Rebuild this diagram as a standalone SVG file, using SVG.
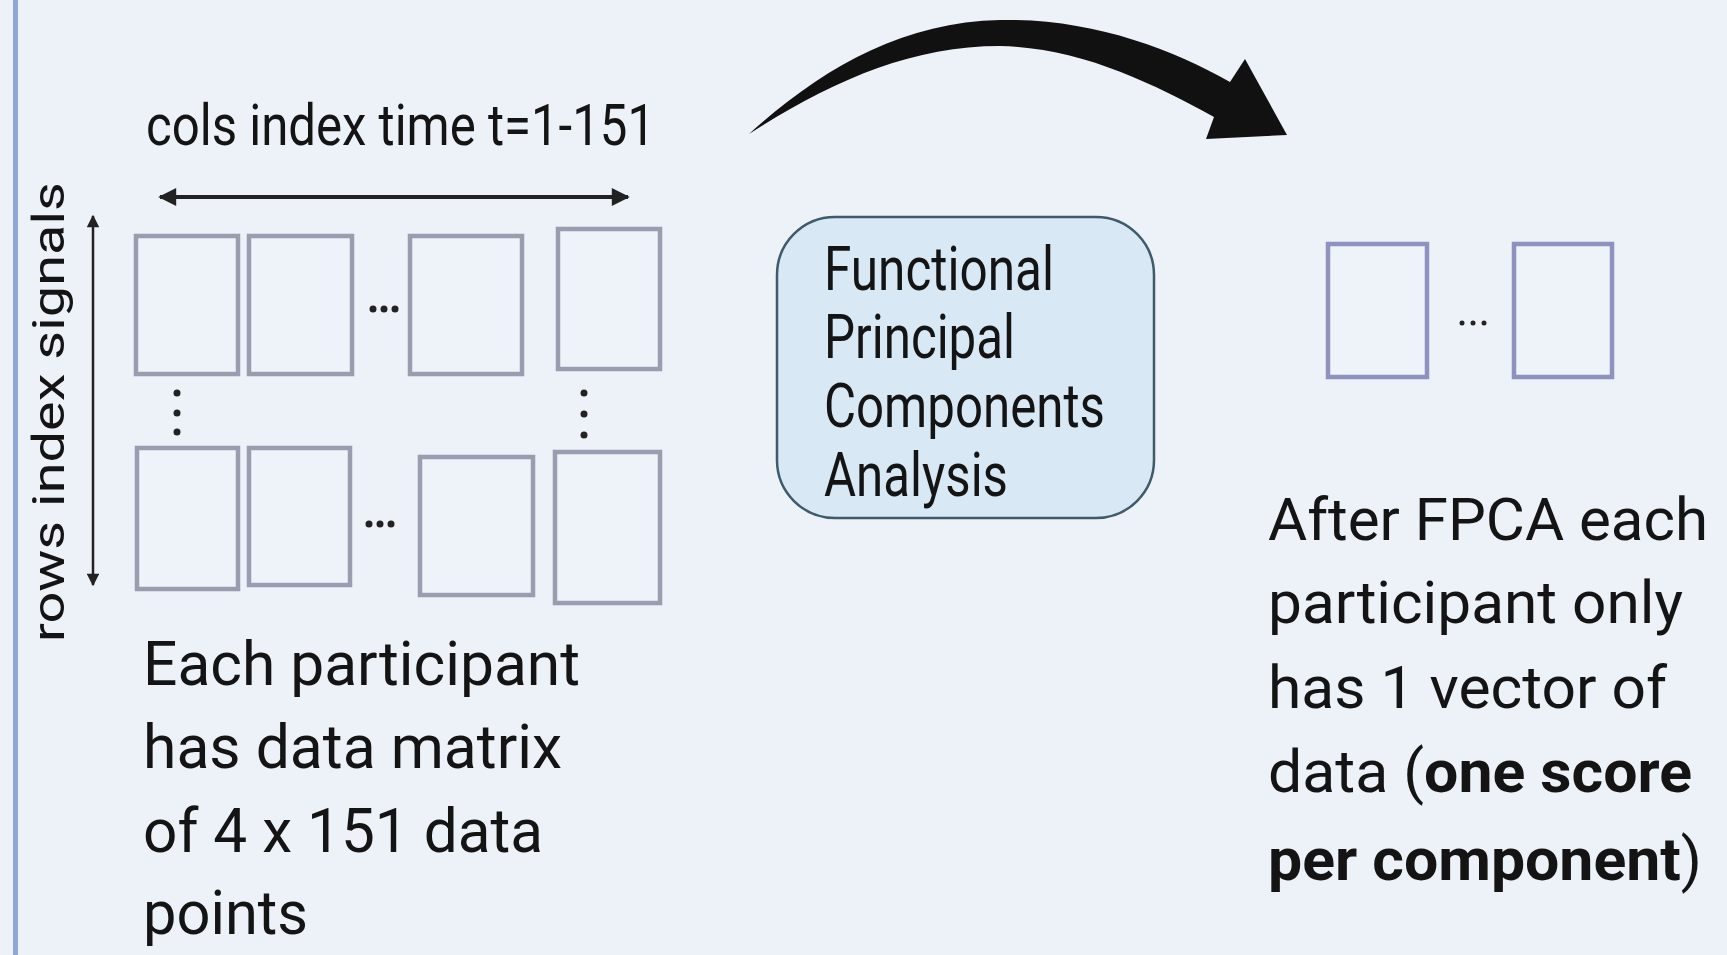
<svg xmlns="http://www.w3.org/2000/svg" width="1727" height="955" viewBox="0 0 1727 955">
<defs>
<style>
.t{font-family:Roboto,"Liberation Sans",sans-serif;fill:#141414}
.big{font-size:62px}
.rt{font-size:60px}
.box{fill:#eef3fa;stroke:#9a9db0;stroke-width:4.5}
.rbox{fill:#eef3fa;stroke:#8f92bf;stroke-width:4.5}
.dot{fill:#222}
</style>
<marker id="ah" viewBox="0 0 10 10" refX="9" refY="5" markerWidth="5" markerHeight="4.5" orient="auto-start-reverse" markerUnits="strokeWidth">
<path d="M0,0 L10,5 L0,10 z" fill="#222"/>
</marker>
<marker id="ah2" viewBox="0 0 10 10" refX="9" refY="5" markerWidth="7" markerHeight="5" orient="auto-start-reverse" markerUnits="strokeWidth">
<path d="M0,0 L10,5 L0,10 z" fill="#222"/>
</marker>
</defs>
<rect width="1727" height="955" fill="#edf1f8"/>
<rect x="13" y="0" width="5" height="955" fill="#8ea9d8"/>

<g id="connectors">
<line x1="160" y1="197" x2="628" y2="197" stroke="#222" stroke-width="4" marker-start="url(#ah)" marker-end="url(#ah)"/>
<line x1="93" y1="216" x2="93" y2="585" stroke="#222" stroke-width="2.5" marker-start="url(#ah2)" marker-end="url(#ah2)"/>
<path id="curved-arrow" d="M749,134 C820,70 900,22 1000,20 C1090,18 1170,48 1230,82 L1245,59 L1287,135 L1206,139 L1214,117 C1150,82 1080,48 1000,46 C910,46 830,82 749,134 Z" fill="#111"/>
</g>

<g id="label-cols">
<text class="t" x="146" y="145" font-size="57" textLength="509" lengthAdjust="spacingAndGlyphs">cols index time t=1-151</text>
</g>
<g id="label-rows">
<text class="t" transform="translate(64,642) rotate(-90)" font-size="45" textLength="460" lengthAdjust="spacingAndGlyphs">rows index signals</text>
</g>

<g id="matrix">
<rect class="box" x="136" y="236" width="102" height="138"/>
<rect class="box" x="249" y="236" width="103" height="138"/>
<rect class="box" x="410" y="236" width="112" height="138"/>
<rect class="box" x="558" y="229" width="102" height="140"/>
<rect class="box" x="137" y="448" width="101" height="141"/>
<rect class="box" x="249" y="448" width="101" height="137"/>
<rect class="box" x="420" y="457" width="113" height="138"/>
<rect class="box" x="555" y="452" width="105" height="151"/>
<circle class="dot" cx="373" cy="309" r="3.5"/><circle class="dot" cx="384" cy="309" r="3.5"/><circle class="dot" cx="395" cy="309" r="3.5"/>
<circle class="dot" cx="369" cy="524" r="3.5"/><circle class="dot" cx="380" cy="524" r="3.5"/><circle class="dot" cx="391" cy="524" r="3.5"/>
<circle class="dot" cx="177" cy="393" r="3.5"/><circle class="dot" cx="177" cy="413" r="3.5"/><circle class="dot" cx="177" cy="432" r="3.5"/>
<circle class="dot" cx="584" cy="393" r="3.5"/><circle class="dot" cx="584" cy="414" r="3.5"/><circle class="dot" cx="584" cy="435" r="3.5"/>
</g>

<g id="left-text">
<text class="t big" x="143" y="685" textLength="437" lengthAdjust="spacingAndGlyphs">Each participant</text>
<text class="t big" x="143" y="768" textLength="419" lengthAdjust="spacingAndGlyphs">has data matrix</text>
<text class="t big" x="143" y="852" textLength="400" lengthAdjust="spacingAndGlyphs">of 4 x 151 data</text>
<text class="t big" x="143" y="934" textLength="165" lengthAdjust="spacingAndGlyphs">points</text>
</g>

<g id="fpca">
<rect x="777" y="217" width="377" height="301" rx="58" ry="58" fill="#d9e8f5" stroke="#3f5a6a" stroke-width="2.5"/>
<text class="t" x="824" y="290" font-size="62" textLength="230" lengthAdjust="spacingAndGlyphs">Functional</text>
<text class="t" x="824" y="358" font-size="62" textLength="191" lengthAdjust="spacingAndGlyphs">Principal</text>
<text class="t" x="824" y="427" font-size="62" textLength="281" lengthAdjust="spacingAndGlyphs">Components</text>
<text class="t" x="824" y="496" font-size="62" textLength="184" lengthAdjust="spacingAndGlyphs">Analysis</text>
</g>

<g id="scores">
<rect class="rbox" x="1328" y="244" width="99" height="133"/>
<rect class="rbox" x="1514" y="244" width="98" height="133"/>
<circle class="dot" cx="1462" cy="323" r="2.5"/><circle class="dot" cx="1473" cy="323" r="2.5"/><circle class="dot" cx="1484" cy="323" r="2.5"/>
</g>

<g id="right-text">
<text class="t rt" x="1268" y="540" textLength="440" lengthAdjust="spacingAndGlyphs">After FPCA each</text>
<text class="t rt" x="1268" y="623" textLength="415" lengthAdjust="spacingAndGlyphs">participant only</text>
<text class="t rt" x="1268" y="708" textLength="399" lengthAdjust="spacingAndGlyphs">has 1 vector of</text>
<text class="t rt" x="1268" y="792" textLength="424" lengthAdjust="spacingAndGlyphs">data (<tspan font-weight="bold">one score</tspan></text>
<text class="t rt" x="1268" y="880" textLength="434" lengthAdjust="spacingAndGlyphs"><tspan font-weight="bold">per component</tspan>)</text>
</g>
</svg>
